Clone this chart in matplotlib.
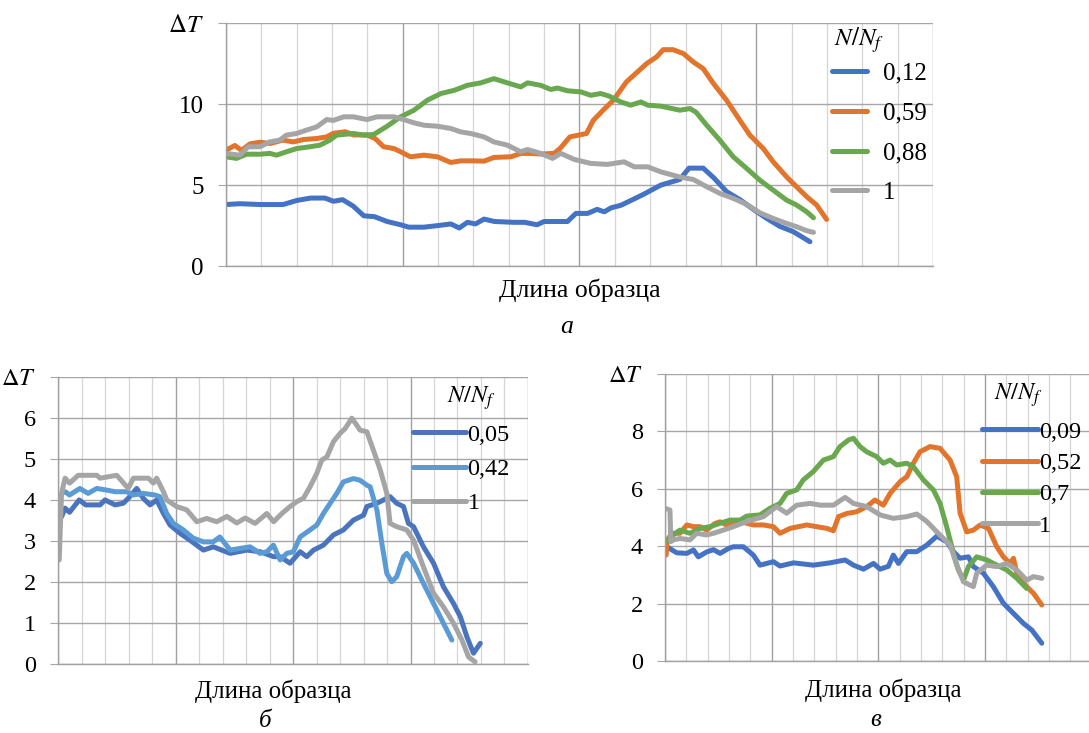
import matplotlib
matplotlib.use("Agg")
import matplotlib.pyplot as plt
from matplotlib.lines import Line2D

plt.rcParams["font.family"] = ["Liberation Serif", "DejaVu Serif"]
plt.rcParams["mathtext.fontset"] = "stix"

# ---- chart a ----
A_LABELS = ["0,12", "0,59", "0,88", "1"]
A_X_012 = [0.0, 0.4, 0.96, 1.62, 2.0, 2.4, 2.8, 3.04, 3.3, 3.6, 3.9, 4.2, 4.56, 4.94, 5.17, 5.6,
           6.0, 6.36, 6.6, 6.83, 7.06, 7.3, 7.6, 8.15, 8.45, 8.8, 9.0, 9.3, 9.66, 9.9, 10.23,
           10.5, 10.7, 10.9, 11.17, 11.55, 11.83, 12.3, 12.84, 13.1, 13.5, 13.8, 14.16, 14.54,
           14.92, 15.29, 15.67, 16.05, 16.52]
A_Y_012 = [3.8, 3.85, 3.8, 3.8, 4.05, 4.2, 4.2, 4.0, 4.1, 3.7, 3.1, 3.05, 2.75, 2.55, 2.4, 2.4,
           2.5, 2.6, 2.35, 2.7, 2.6, 2.9, 2.75, 2.7, 2.7, 2.55, 2.75, 2.75, 2.75, 3.25, 3.25,
           3.5, 3.35, 3.6, 3.75, 4.15, 4.45, 5.0, 5.35, 6.05, 6.05, 5.45, 4.6, 4.1,
           3.5, 2.95, 2.45, 2.12, 1.5]
A_X_059 = [0.0, 0.25, 0.44, 0.68, 0.96, 1.24, 1.62, 1.9, 2.2, 2.57, 2.85, 3.04, 3.37, 3.61, 3.99,
           4.22, 4.46, 4.75, 4.94, 5.22, 5.6, 5.98, 6.36, 6.64, 7.0, 7.3, 7.58, 8.06, 8.34, 8.62,
           8.9, 9.28, 9.45, 9.73, 10.2, 10.39, 10.67, 10.96, 11.33, 11.9, 12.18, 12.37, 12.65,
           12.94, 13.22, 13.5, 13.79, 14.16, 14.54, 14.82, 15.2, 15.48, 15.86, 16.14, 16.43,
           16.71, 16.99]
A_Y_059 = [7.15, 7.45, 7.15, 7.55, 7.65, 7.57, 7.78, 7.67, 7.82, 7.88, 7.98, 8.2, 8.3, 8.1, 8.1,
           7.88, 7.37, 7.26, 7.06, 6.75, 6.85, 6.75, 6.4, 6.5, 6.5, 6.48, 6.71, 6.75, 6.96, 6.96,
           6.92, 6.96, 7.26, 7.98, 8.19, 9.0, 9.63, 10.25, 11.38, 12.51, 12.92, 13.37, 13.37,
           13.13, 12.61, 12.2, 11.28, 10.25, 9.0, 8.09, 7.26, 6.44, 5.51, 4.9, 4.28,
           3.77, 2.88]
A_X_088 = [0.0, 0.3, 0.58, 0.96, 1.24, 1.43, 1.71, 2.0, 2.38, 2.66, 2.94, 3.13, 3.61, 3.9, 4.18,
           4.56, 4.94, 5.32, 5.7, 6.08, 6.46, 6.83, 7.21, 7.58, 7.96, 8.34, 8.53, 8.9, 9.19, 9.38,
           9.66, 10.04, 10.32, 10.6, 10.84, 11.17, 11.45, 11.74, 11.93, 12.3, 12.84, 13.13, 13.3,
           13.6, 13.97, 14.35, 14.73, 15.1, 15.48, 15.86, 16.14, 16.43, 16.62]
A_Y_088 = [6.75, 6.65, 6.91, 6.91, 6.96, 6.85, 7.06, 7.26, 7.37, 7.47, 7.78, 8.09, 8.19, 8.09, 8.13,
           8.64, 9.22, 9.63, 10.25, 10.66, 10.86, 11.17, 11.32, 11.58, 11.32, 11.07, 11.32, 11.17,
           10.91, 11.0, 10.83, 10.76, 10.55, 10.66, 10.5, 10.14, 9.94, 10.14, 9.94, 9.88, 9.63,
           9.73, 9.5, 8.7, 7.78, 6.75, 6.03, 5.31, 4.69, 4.07, 3.77, 3.35, 2.98]
A_X_1 = [0.0, 0.39, 0.63, 0.96, 1.24, 1.52, 1.71, 2.0, 2.28, 2.57, 2.85, 3.04, 3.33, 3.61, 3.99,
         4.27, 4.75, 5.03, 5.32, 5.6, 5.98, 6.36, 6.64, 6.92, 7.3, 7.58, 7.96, 8.34, 8.53, 8.9,
         9.24, 9.47, 9.85, 10.32, 10.79, 11.26, 11.55, 11.93, 12.3, 12.84, 13.22, 13.6, 13.97,
         14.35, 14.73, 15.1, 15.48, 15.86, 16.14, 16.43, 16.62]
A_Y_1 = [6.96, 6.85, 7.37, 7.37, 7.67, 7.78, 8.09, 8.19, 8.4, 8.6, 9.05, 9.0, 9.22, 9.22, 9.05,
         9.22, 9.22, 9.05, 8.85, 8.7, 8.64, 8.5, 8.29, 8.19, 7.98, 7.67, 7.47, 7.06, 7.2, 6.96,
         6.65, 6.96, 6.59, 6.34, 6.28, 6.44, 6.13, 6.13, 5.82, 5.5, 5.35, 4.9, 4.49,
         4.18, 3.81, 3.29, 2.94, 2.63, 2.43, 2.18, 2.08]

# ---- chart b ----
B_LABELS = ["0,05", "0,42", "1"]
B_X_005 = [0.14, 0.29, 0.48, 0.89, 1.17, 1.78, 1.99, 2.42, 2.77, 2.98, 3.34, 3.62, 3.91, 4.19,
           4.48, 4.76, 5.18, 5.61, 6.18, 6.6, 7.32, 8.03, 8.59, 9.17, 9.45, 9.87, 10.3, 10.58,
           10.87, 11.29, 11.72, 12.14, 12.57, 13.0, 13.14, 13.57, 14.13, 14.41, 14.7, 14.91,
           15.13, 15.55, 15.98, 16.4, 16.83, 17.12, 17.4, 17.68, 17.97]
B_Y_005 = [3.59, 3.8, 3.7, 4.0, 3.88, 3.88, 4.0, 3.88, 3.92, 4.04, 4.28, 4.04, 3.88, 4.0,
           3.67, 3.39, 3.19, 3.02, 2.78, 2.86, 2.7, 2.78, 2.74, 2.62, 2.62, 2.46, 2.74, 2.62,
           2.78, 2.9, 3.15, 3.27, 3.51, 3.63, 3.84, 3.92, 4.08, 3.92, 3.84, 3.43,
           3.35, 2.86, 2.46, 1.89, 1.48, 1.16, 0.67, 0.27, 0.51]
B_X_042 = [0.14, 0.3, 0.48, 0.92, 1.27, 1.64, 2.06, 2.42, 2.92, 3.2, 3.62, 4.12, 4.33, 4.62,
           4.9, 5.33, 5.75, 6.18, 6.6, 6.88, 7.32, 7.74, 8.17, 8.59, 8.88, 9.16, 9.45, 9.73,
           10.01, 10.3, 10.72, 11.01, 11.29, 11.58, 11.86, 12.14, 12.57, 12.85, 13.14, 13.28,
           13.57, 13.78, 13.99, 14.2, 14.41, 14.7, 14.84, 15.13, 15.55, 15.98, 16.4, 16.76]
B_Y_042 = [4.16, 4.2, 4.12, 4.28, 4.16, 4.28, 4.24, 4.2, 4.2, 4.12, 4.16, 4.12, 4.08, 3.67,
           3.43, 3.27, 3.07, 2.98, 2.98, 3.1, 2.78, 2.82, 2.86, 2.7, 2.74, 2.9, 2.54, 2.7,
           2.74, 3.1, 3.27, 3.39, 3.67, 3.92, 4.16, 4.44, 4.52, 4.48, 4.36, 4.32,
           3.75, 2.94, 2.21, 2.01, 2.13, 2.62, 2.7, 2.46, 1.97, 1.48, 1.0, 0.59]
B_X_1 = [0.04, 0.14, 0.29, 0.48, 0.85, 1.64, 1.78, 2.49, 2.77, 2.98, 3.2, 3.84, 4.05, 4.19,
         4.48, 4.62, 5.04, 5.47, 5.9, 6.32, 6.75, 7.18, 7.6, 7.96, 8.38, 8.88, 9.17, 9.52,
         9.87, 10.16, 10.44, 10.72, 11.01, 11.22, 11.44, 11.72, 12.0, 12.22, 12.5, 12.71,
         12.85, 13.14, 13.42, 13.71, 13.99, 14.13, 14.41, 14.84, 15.13, 15.55, 15.98, 16.4,
         16.83, 17.19, 17.47, 17.75]
B_Y_1 = [2.54, 4.16, 4.53, 4.41, 4.6, 4.6, 4.53, 4.6, 4.42, 4.28, 4.53, 4.53, 4.41, 4.53,
         4.2, 4.0, 3.84, 3.76, 3.47, 3.55, 3.47, 3.6, 3.44, 3.56, 3.43, 3.67, 3.47, 3.67,
         3.84, 3.96, 4.04, 4.32, 4.65, 4.97, 5.05, 5.42, 5.62, 5.74, 5.99, 5.82,
         5.7, 5.66, 5.21, 4.73, 4.16, 3.43, 3.35, 3.27, 3.02, 2.37, 1.73, 1.4,
         1.0, 0.59, 0.18, 0.06]

# ---- chart v ----
C_LABELS = ["0,09", "0,52", "0,7", "1"]
C_X_009 = [0.08, 0.55, 1.02, 1.33, 1.56, 1.95, 2.27, 2.58, 2.97, 3.2, 3.67, 4.14, 4.45, 5.08,
           5.39, 6.02, 6.95, 7.73, 8.44, 8.83, 9.3, 9.77, 10.08, 10.47, 10.7, 10.94, 11.33,
           11.8, 12.27, 12.74, 13.21, 13.52, 13.83, 14.22, 14.45, 14.92, 15.39, 15.86, 16.33,
           16.8, 17.19, 17.66]
C_Y_009 = [3.98, 3.77, 3.75, 3.87, 3.63, 3.8, 3.88, 3.75, 3.92, 3.98, 3.98, 3.69, 3.34, 3.46,
           3.31, 3.42, 3.34, 3.42, 3.52, 3.34, 3.2, 3.4, 3.2, 3.3, 3.69, 3.4, 3.81,
           3.81, 4.04, 4.35, 4.15, 3.81, 3.58, 3.63, 3.29, 3.06, 2.59, 2.01, 1.66,
           1.31, 1.08, 0.62]
C_X_052 = [0.05, 0.1, 0.31, 0.7, 1.02, 1.33, 1.64, 1.95, 2.34, 2.58, 2.89, 3.52, 4.14, 4.61,
           5.08, 5.39, 5.86, 6.64, 7.11, 7.58, 7.89, 8.13, 8.52, 8.98, 9.45, 9.84, 10.23, 10.55,
           11.02, 11.33, 11.64, 11.95, 12.42, 12.89, 13.36, 13.67, 13.83, 14.14, 14.45, 14.77,
           15.16, 15.55, 15.86, 16.17, 16.33, 16.49, 16.95, 17.27, 17.66]
C_Y_052 = [3.69, 4.2, 4.45, 4.45, 4.74, 4.68, 4.68, 4.56, 4.79, 4.85, 4.74, 4.86, 4.74, 4.74,
           4.68, 4.45, 4.62, 4.74, 4.68, 4.62, 4.54, 5.03, 5.14, 5.2, 5.38, 5.61, 5.43, 5.84,
           6.25, 6.42, 6.89, 7.29, 7.47, 7.41, 7.0, 6.42, 5.15, 4.5, 4.56, 4.74,
           4.62, 3.98, 3.63, 3.4, 3.58, 3.06, 2.59, 2.36, 1.95]
C_X_07 = [0.08, 0.39, 0.7, 1.17, 1.64, 2.11, 2.58, 3.05, 3.52, 3.83, 4.45, 4.92, 5.39, 5.7,
          6.17, 6.48, 6.95, 7.42, 7.89, 8.2, 8.6, 8.83, 9.14, 9.45, 9.92, 10.23, 10.55, 10.86,
          11.33, 11.64, 12.11, 12.58, 12.89, 13.2, 13.52, 13.75, 13.99, 14.22, 14.61, 15.08,
          15.55, 16.02, 16.49, 16.95]
C_Y_07 = [4.16, 4.4, 4.56, 4.45, 4.62, 4.68, 4.8, 4.91, 4.91, 5.05, 5.09, 5.32, 5.49, 5.84,
          5.96, 6.31, 6.6, 7.0, 7.12, 7.47, 7.7, 7.76, 7.47, 7.29, 7.12, 6.89, 7.0, 6.83,
          6.89, 6.77, 6.31, 5.96, 5.49, 4.68, 3.75, 3.17, 2.82, 3.29, 3.63, 3.52,
          3.34, 3.17, 2.88, 2.53]
C_X_1 = [0.0, 0.23, 0.27, 0.39, 0.7, 1.17, 1.48, 1.95, 2.27, 2.73, 3.2, 3.83, 4.61, 5.23, 5.7,
         6.17, 6.8, 7.27, 7.89, 8.44, 8.83, 9.45, 10.08, 10.7, 11.33, 11.8, 12.27, 12.74,
         13.05, 13.36, 13.67, 13.99, 14.45, 14.61, 15.08, 15.55, 16.02, 16.49, 16.95, 17.27,
         17.66]
C_Y_1 = [5.32, 5.26, 4.16, 4.22, 4.27, 4.22, 4.45, 4.39, 4.45, 4.56, 4.68, 4.86, 5.03, 5.38, 5.15,
         5.43, 5.49, 5.43, 5.43, 5.7, 5.49, 5.38, 5.09, 4.97, 5.03, 5.12, 4.86, 4.5,
         4.27, 4.05, 3.35, 2.76, 2.59, 3.06, 3.34, 3.29, 3.4, 3.17, 2.82, 2.94,
         2.88]

BLUE = "#4472C4"
ORANGE = "#E2742C"
GREEN = "#6AA84F"
GRAY = "#A5A5A5"
LIGHTBLUE = "#5B9BD5"
DARKBLUE = "#4A74BE"
LW = 3.6


def style_axes(ax, ymax, ystep, fsize):
    ax.set_xlim(0, 20)
    ax.set_ylim(0, ymax)
    ax.set_xticks(range(0, 21, 5))
    ax.set_xticks(range(21), minor=True)
    ax.grid(True, which="minor", axis="x", color="#D6D6D6", linewidth=0.9)
    ax.grid(True, which="major", axis="x", color="#A0A0A0", linewidth=1.0)
    ax.tick_params(axis="x", which="both", length=0, labelbottom=False)
    yt = list(range(0, ymax + 1, ystep))
    ax.set_yticks(yt)
    ax.set_yticklabels([str(v) for v in yt[:-1]] + [r"$\Delta T$"])
    ax.grid(True, which="major", axis="y", color="#A6A6A6", linewidth=1.0)
    ax.tick_params(axis="y", length=6, color="#A6A6A6", pad=10, labelsize=fsize)
    for side in ["top", "right"]:
        ax.spines[side].set_visible(False)
    for side in ["left", "bottom"]:
        ax.spines[side].set_color("#A0A0A0")
        ax.spines[side].set_linewidth(1.0)
    ax.set_axisbelow(True)


def add_legend(ax, colors, labels, x, y, fsize, hlen, hpad, lspace, tx, ty):
    handles = [Line2D([], [], color=c, lw=LW, solid_capstyle="round") for c in colors]
    ax.legend(handles, labels, loc="upper left", bbox_to_anchor=(x, y), frameon=False,
              borderpad=0, borderaxespad=0, handlelength=hlen, handletextpad=hpad,
              labelspacing=lspace, fontsize=fsize)
    ax.text(tx, ty, r"$N/N_f$", transform=ax.transAxes, fontsize=fsize,
            ha="center", va="center")


def draw_lines(ax, series):
    for xs, ys, c in series:
        ax.plot(xs, ys, color=c, lw=LW, solid_capstyle="round", solid_joinstyle="round")


fig = plt.figure(figsize=(10.89, 7.33), dpi=100)

# chart a
ax_a = fig.add_axes([0.2075, 0.6371, 0.6492, 0.3311])
style_axes(ax_a, 15, 5, 18)
draw_lines(ax_a, [(A_X_012, A_Y_012, BLUE), (A_X_059, A_Y_059, ORANGE),
                  (A_X_088, A_Y_088, GREEN), (A_X_1, A_Y_1, GRAY)])
add_legend(ax_a, [BLUE, ORANGE, GREEN, GRAY], A_LABELS, 0.8567, 0.839, 18, 1.4, 0.64, 0.69,
           0.895, 0.931)
fig.text(580 / 1089, 1 - 290 / 733, "Длина образца", fontsize=18.5, ha="center", va="center")
fig.text(567 / 1089, 1 - 327 / 733, "а", fontsize=18.5, style="italic", ha="center", va="center")

# chart b
ax_b = fig.add_axes([0.0535, 0.0937, 0.4313, 0.3924])
style_axes(ax_b, 7, 1, 17.5)
draw_lines(ax_b, [(B_X_005, B_Y_005, DARKBLUE), (B_X_042, B_Y_042, LIGHTBLUE),
                  (B_X_1, B_Y_1, GRAY)])
add_legend(ax_b, [DARKBLUE, LIGHTBLUE, GRAY], B_LABELS, 0.755, 0.836, 17.5, 2.2, 0.05, 0.5,
           0.880, 0.926)
fig.text(273 / 1089, 1 - 691 / 733, "Длина образца", fontsize=18, ha="center", va="center")
fig.text(265 / 1089, 1 - 721 / 733, "б", fontsize=18, style="italic", ha="center", va="center")

# chart v
ax_c = fig.add_axes([0.6107, 0.0982, 0.3918, 0.3916])
style_axes(ax_c, 10, 2, 17.5)
draw_lines(ax_c, [(C_X_009, C_Y_009, BLUE), (C_X_052, C_Y_052, ORANGE),
                  (C_X_07, C_Y_07, GREEN), (C_X_1, C_Y_1, GRAY)])
add_legend(ax_c, [BLUE, ORANGE, GREEN, GRAY], C_LABELS, 0.742, 0.837, 17.5, 2.3, 0.05, 0.38,
           0.827, 0.927)
fig.text(883 / 1089, 1 - 690 / 733, "Длина образца", fontsize=18, ha="center", va="center")
fig.text(876 / 1089, 1 - 720 / 733, "в", fontsize=18, style="italic", ha="center", va="center")

fig.savefig("out.png", dpi=100)
